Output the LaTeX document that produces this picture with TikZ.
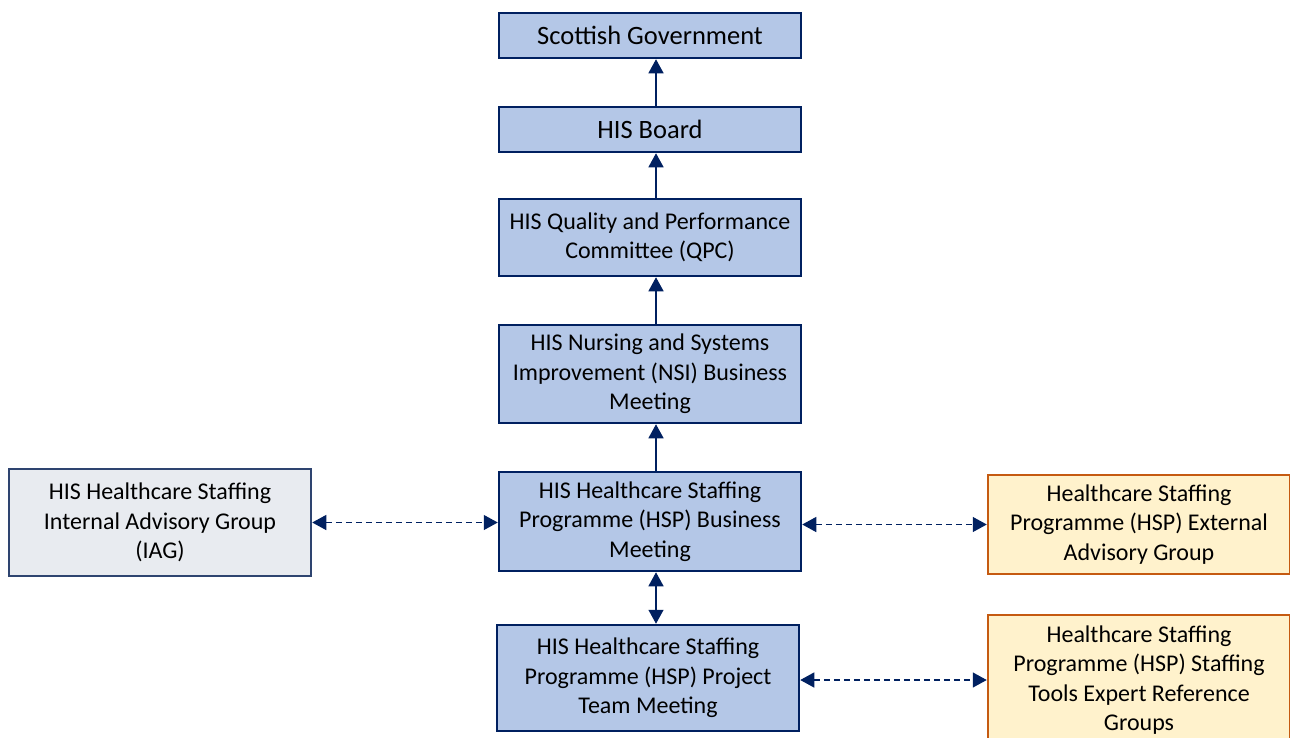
\documentclass[tikz,border=0pt]{standalone}
\usepackage{fontspec}
\setmainfont{Carlito}
\usetikzlibrary{arrows.meta}
\definecolor{navy}{HTML}{002060}
\definecolor{boxblue}{HTML}{B4C7E7}
\definecolor{boxgrey}{HTML}{E8EBF0}
\definecolor{greyline}{HTML}{2E4470}
\definecolor{boxcream}{HTML}{FFF2CC}
\definecolor{rust}{HTML}{C55A11}

\begin{document}
\begin{tikzpicture}[x=1pt,y=-1pt]
\tikzstyle{box}=[draw=navy,fill=boxblue,line width=2.5pt,minimum width=302pt,align=center,inner sep=0pt,font=\fontsize{24}{29.5}\selectfont]
\tikzstyle{head}=[box,minimum height=45pt,font=\fontsize{26.5}{29.5}\selectfont]
\tikzstyle{side}=[box,draw=greyline,fill=boxgrey]
\tikzstyle{ext}=[box,draw=rust,fill=boxcream]
\tikzstyle{up}=[draw=navy,line width=1.3pt,-{Triangle[length=14pt,width=15pt]}]
\tikzstyle{link}=[draw=navy,line width=1.3pt,dash pattern=on 6pt off 4pt,{Triangle[length=14pt,width=15pt]}-{Triangle[length=14pt,width=15pt]}]
\useasboundingbox (0,0) rectangle (1290,737);

% main chain
\path (650,35.5) node[head](gov){Scottish Government};
\path (650,129.5) node[head](board){HIS Board};
\path (650,237.5) node[box,minimum height=77pt](qpc){HIS Quality and Performance\\Committee (QPC)};
\path (650,374) node[box,minimum height=98pt](nsi){HIS Nursing and Systems\\Improvement (NSI) Business\\Meeting};
\path (650,521.5) node[box,minimum height=99pt](hsp){HIS Healthcare Staffing\\Programme (HSP) Business\\Meeting};
\path (648,678) node[box,minimum height=106pt](team){HIS Healthcare Staffing\\Programme (HSP) Project\\Team Meeting};

% groups either side
\path (160,522.5) node[side,minimum height=107pt](iag){HIS Healthcare Staffing\\Internal Advisory Group\\(IAG)};
\path (1139,524.5) node[ext,minimum height=99pt](eag){Healthcare Staffing\\Programme (HSP) External\\Advisory Group};
\path (1139,680) node[ext,minimum height=130pt](erg){Healthcare Staffing\\Programme (HSP) Staffing\\Tools Expert Reference\\Groups};

\draw[up] ([xshift=6pt]board.north) -- ([xshift=6pt]gov.south);
\draw[up] ([xshift=6pt]qpc.north) -- ([xshift=6pt]board.south);
\draw[up] ([xshift=6pt]nsi.north) -- ([xshift=6pt]qpc.south);
\draw[up] ([xshift=6pt]hsp.north) -- ([xshift=6pt]nsi.south);
\draw[up,{Triangle[length=14pt,width=15pt]}-{Triangle[length=14pt,width=15pt]}] ([xshift=8pt]team.north) -- ([xshift=6pt]hsp.south);

\draw[link] (iag.east) -- (hsp.west |- iag.east);
\draw[link] (hsp.east |- eag.west) -- (eag.west);
\draw[link] (team.east |- erg.west) -- (erg.west);
\end{tikzpicture}
\end{document}
